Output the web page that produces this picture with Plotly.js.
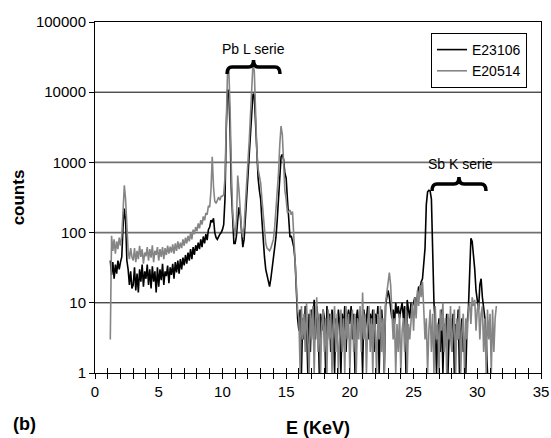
<!DOCTYPE html>
<html>
<head>
<meta charset="utf-8">
<script src="https://cdn.plot.ly/plotly-3.0.1.min.js"></script>
<style>html,body{margin:0;padding:0;background:#fff;}#chart{width:551px;height:438px;}</style>
</head>
<body>
<div id="chart"></div>
<script>
// Energy grid of the spectra (keV): first channel and channel width
const E_START = 1.2;
const E_STEP = 0.1;

const SERIES_NAMES = ['E23106', 'E20514'];

// counts, E23106 (black), from 1.2 keV to 30.8 keV
const e23106 = [
  40, 25, 38, 22, 35, 26, 40, 30,
  38, 45, 120, 220, 150, 40, 30, 18, 28, 16,
  18, 32, 15, 26, 14, 30, 20, 35, 17, 28,
  22, 35, 18, 30, 16, 33, 20, 28, 14, 32,
  17, 30, 21, 36, 18, 28, 24, 34, 19, 32,
  25, 36, 22, 38, 27, 40, 26, 42, 30, 44,
  34, 48, 36, 52, 40, 58, 42, 62, 48, 66,
  55, 72, 58, 80, 62, 88, 70, 95, 78, 110,
  120, 150, 140, 160, 100, 85, 80, 90, 95, 100,
  110, 130, 300, 3000, 11000, 10000, 3000, 400, 120, 70,
  70, 90, 150, 230, 180, 100, 62, 80, 150, 300,
  600, 1000, 2500, 5000, 9500, 9000, 3000, 1200, 600, 400,
  300, 150, 70, 45, 30, 25, 19, 17, 22, 30,
  40, 55, 86, 150, 350, 700, 1200, 1300, 1100, 700,
  600, 300, 150, 86, 90, 70, 62, 40, 15, 6,
  4, 8, 1, 6, 3, 9, 5, 1, 7, 2,
  8, 5, 11, 3, 9, 6, 1, 7, 4, 8,
  6, 1, 9, 4, 7, 2, 8, 5, 1, 6,
  3, 8, 5, 1, 7, 4, 9, 2, 6, 8,
  5, 9, 3, 7, 1, 6, 8, 4, 7, 5,
  1, 8, 4, 6, 9, 3, 7, 5, 8, 2,
  7, 5, 9, 1, 6, 8, 4, 1, 9, 12,
  15, 12, 9, 6, 8, 5, 10, 7, 9, 6,
  8, 10, 6, 9, 1, 11, 8, 6, 10, 9,
  10, 12, 9, 14, 17, 15, 20, 22, 35, 60,
  250, 380, 400, 390, 300, 40, 10, 5, 1, 4,
  6, 2, 8, 1, 5, 3, 7, 1, 4, 6,
  2, 7, 1, 5, 3, 8, 1, 4, 6, 2,
  3, 1, 5, 8, 20, 83, 75, 50, 30, 15,
  10, 8, 18, 22, 12, 9, 6, 3, 1
];

// counts, E20514 (grey), from 1.2 keV to 31.5 keV
const e20514 = [
  3, 90, 55, 80, 50, 75, 58, 85,
  65, 90, 200, 470, 300, 90, 55, 42, 60, 45,
  40, 60, 38, 55, 42, 65, 45, 58, 36, 52,
  46, 62, 40, 58, 44, 66, 38, 55, 48, 62,
  40, 58, 45, 62, 42, 60, 48, 65, 50, 63,
  52, 68, 50, 70, 55, 75, 58, 72, 60, 80,
  65, 85, 70, 90, 75, 100, 80, 110, 95, 120,
  105, 135, 115, 150, 130, 170, 150, 190, 180, 240,
  230, 400, 1200, 450, 280, 260, 300, 320, 290, 330,
  330, 350, 600, 5000, 20000, 21000, 6000, 800, 200, 120,
  90, 150, 650, 400, 200, 110, 86, 120, 250, 600,
  1000, 2000, 5000, 12000, 26000, 20000, 4400, 1500, 800, 600,
  510, 300, 165, 100, 70, 60, 57, 55, 60, 70,
  80, 120, 210, 300, 700, 1800, 3300, 2500, 900, 400,
  300, 190, 200, 210, 180, 200, 90, 40, 19, 8,
  6, 1, 9, 3, 7, 2, 10, 4, 1, 8,
  3, 9, 1, 6, 12, 2, 7, 1, 5, 8,
  2, 6, 1, 8, 3, 7, 1, 5, 9, 2,
  7, 1, 4, 8, 2, 6, 1, 9, 3, 7,
  1, 5, 8, 2, 7, 1, 6, 3, 9, 2,
  14, 3, 7, 1, 5, 9, 2, 6, 1, 8,
  4, 1, 7, 3, 9, 2, 6, 1, 10, 15,
  22, 27, 18, 8, 3, 6, 1, 5, 2, 7,
  1, 4, 6, 2, 8, 1, 5, 3, 7, 10,
  4, 12, 6, 15, 9, 18, 12, 20, 8, 3,
  6, 1, 4, 8, 2, 7, 1, 9, 3, 5,
  1, 8, 4, 10, 2, 6, 1, 7, 3, 9,
  2, 5, 8, 1, 6, 3, 9, 1, 4, 7,
  1, 6, 3, 8, 10, 5, 12, 9, 11, 4,
  8, 10, 3, 7, 9, 2, 6, 1, 8, 3,
  7, 1, 8, 2, 6, 9
];

const Y_TICKS = [1, 10, 100, 1000, 10000, 100000];
const Y_TICK_LABELS = ['1', '10', '100', '1000', '10000', '100000'];
const ANNOT_LABELS = ['Pb L serie', 'Sb K serie'];

// ---- drawing ----
const FONT = 'Liberation Sans, Arial, sans-serif';
const PLOT = {l: 95, r: 541, t: 22, b: 373};
const px2x = p => (p - PLOT.l) / (PLOT.r - PLOT.l);
const px2y = p => (PLOT.b - p) / (PLOT.b - PLOT.t);

function bracePath(xl, xr, yTop, yLine, yEnd) {
  const xm = (xl + xr) / 2, r = 5;
  const P = (x, y) => px2x(x).toFixed(4) + ',' + px2y(y).toFixed(4);
  return 'M' + P(xl, yEnd) + ' Q' + P(xl, yLine) + ' ' + P(xl + r, yLine) +
    ' L' + P(xm - r, yLine) + ' Q' + P(xm, yLine) + ' ' + P(xm, yTop) +
    ' Q' + P(xm, yLine) + ' ' + P(xm + r, yLine) +
    ' L' + P(xr - r, yLine) + ' Q' + P(xr, yLine) + ' ' + P(xr, yEnd);
}

const traces = [
  {type: 'scatter', mode: 'lines', name: SERIES_NAMES[0], x0: E_START, dx: E_STEP, y: e23106,
   line: {color: '#000000', width: 1.6}},
  {type: 'scatter', mode: 'lines', name: SERIES_NAMES[1], x0: E_START, dx: E_STEP, y: e20514,
   line: {color: '#858585', width: 1.6}},
  {type: 'scatter', mode: 'lines', x: [0, 35], y: [null, null], xaxis: 'x2', yaxis: 'y',
   showlegend: false, hoverinfo: 'skip'}
];

const gridShapes = [
  {y: 0.2, c: '#000', w: 1}, {y: 0.4, c: '#707070', w: 1.6},
  {y: 0.6, c: '#707070', w: 1.6}, {y: 0.8, c: '#000', w: 1}
].map(g => ({type: 'line', xref: 'paper', yref: 'paper', x0: 0, x1: 1, y0: g.y, y1: g.y,
  line: {color: g.c, width: g.w}, layer: 'below'}));

const layout = {
  width: 551, height: 438,
  margin: {l: 95, r: 10, t: 22, b: 65, pad: 0},
  paper_bgcolor: '#fff', plot_bgcolor: '#fff',
  font: {family: FONT, size: 15, color: '#000'},
  showlegend: true,
  legend: {x: px2x(431), y: px2y(33), xanchor: 'left', yanchor: 'top',
    bordercolor: '#000', borderwidth: 1, bgcolor: '#fff',
    font: {family: FONT, size: 14, color: '#000'}, tracegroupgap: 0},
  xaxis: {range: [0, 35], tick0: 0, dtick: 5, ticks: 'outside', ticklen: 5, tickcolor: '#000',
    showline: true, linecolor: '#000', linewidth: 1, mirror: true, showgrid: false, zeroline: false,
    minor: {dtick: 1, tick0: 0, ticks: 'outside', ticklen: 5, tickcolor: '#000', showgrid: false},
    tickfont: {family: FONT, size: 15, color: '#000'},
    title: {text: '<b>E (KeV)</b>', font: {family: FONT, size: 18, color: '#000'}, standoff: 24}},
  xaxis2: {overlaying: 'x', anchor: 'y', side: 'bottom', range: [0, 35], tick0: 0, dtick: 1,
    ticks: 'inside', ticklen: 5, tickcolor: '#000', showticklabels: false,
    showline: false, showgrid: false, zeroline: false},
  yaxis: {type: 'log', range: [0, 5], tickmode: 'array', tickvals: Y_TICKS, ticktext: Y_TICK_LABELS,
    ticks: 'outside', ticklen: 5, tickcolor: '#000', showline: true, linecolor: '#000', linewidth: 1,
    mirror: true, showgrid: false, zeroline: false,
    tickfont: {family: FONT, size: 15, color: '#000'},
    title: {text: '<b>counts</b>', font: {family: FONT, size: 17, color: '#000'}, standoff: 6}},
  shapes: gridShapes.concat([
    {type: 'path', xref: 'paper', yref: 'paper', path: bracePath(227, 280, 60, 67, 74),
     line: {color: '#000', width: 3.5}},
    {type: 'path', xref: 'paper', yref: 'paper', path: bracePath(432, 486, 177, 184, 191),
     line: {color: '#000', width: 3.5}}
  ]),
  annotations: [
    {xref: 'paper', yref: 'paper', x: px2x(253), y: px2y(49), text: ANNOT_LABELS[0], showarrow: false,
     xanchor: 'center', yanchor: 'middle', font: {family: FONT, size: 14, color: '#000'}},
    {xref: 'paper', yref: 'paper', x: px2x(460), y: px2y(164), text: ANNOT_LABELS[1], showarrow: false,
     xanchor: 'center', yanchor: 'middle', font: {family: FONT, size: 14, color: '#000'}},
    {xref: 'paper', yref: 'paper', x: px2x(11), y: px2y(424), text: '<b>(b)</b>', showarrow: false,
     xanchor: 'left', yanchor: 'middle', font: {family: FONT, size: 18, color: '#000'}}
  ]
};

Plotly.newPlot('chart', traces, layout, {displayModeBar: false, staticPlot: true});
</script>
</body>
</html>
